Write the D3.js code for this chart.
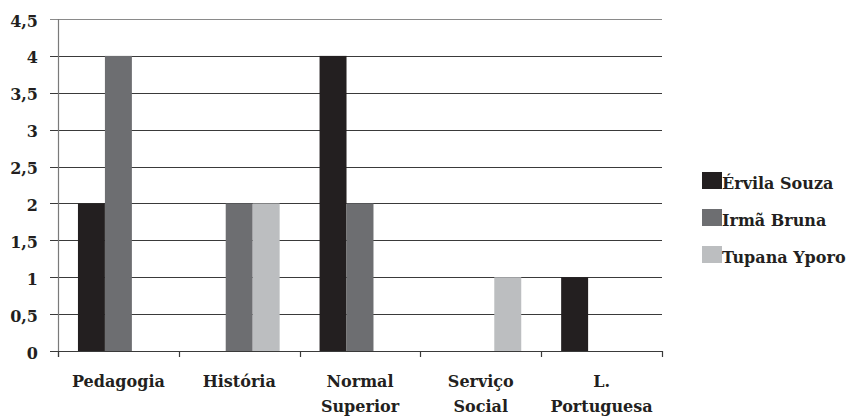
<!DOCTYPE html>
<html>
<head>
<meta charset="utf-8">
<script src="https://cdn.jsdelivr.net/npm/d3@7"></script>
<style>
  html, body { margin: 0; padding: 0; background: #fff; }
  svg text { font-family: "DejaVu Serif", serif; font-weight: bold; fill: #231f20; }
</style>
</head>
<body>
<svg id="chart" width="857" height="417"></svg>
<script>
// Courses and the number of students per teacher
const categories = [["Pedagogia"], ["História"], ["Normal", "Superior"], ["Serviço", "Social"], ["L.", "Portuguesa"]];
const seriesNames = ["Érvila Souza", "Irmã Bruna", "Tupana Yporo"];
const ervilaSouza = [2, 0, 4, 0, 1];
const irmaBruna = [4, 2, 2, 0, 0];
const tupanaYporo = [0, 2, 0, 1, 0];
const yTicks = [0, 0.5, 1, 1.5, 2, 2.5, 3, 3.5, 4, 4.5];
const colors = ["#231f20", "#6d6e71", "#bcbec0"];

const seriesValues = [ervilaSouza, irmaBruna, tupanaYporo];
const svg = d3.select("#chart");

const plotLeft = 58, plotRight = 662, plotTop = 19, plotBottom = 351;

const x0 = d3.scaleBand().domain(d3.range(categories.length)).range([plotLeft, plotRight]).paddingInner(0).paddingOuter(0);
const x1 = d3.scaleBand().domain(d3.range(seriesNames.length)).range([0, x0.bandwidth()]).paddingOuter(0.74).paddingInner(0);
const y = d3.scaleLinear().domain([0, 4.5]).range([plotBottom, plotTop]);

// Horizontal gridlines
svg.append("g").selectAll("line").data(yTicks).join("line")
  .attr("x1", plotLeft - 8).attr("x2", plotRight)
  .attr("y1", d => Math.round(y(d)) + 0.5).attr("y2", d => Math.round(y(d)) + 0.5)
  .attr("stroke", d => d === 4.5 ? "#8a8a8a" : "#3a3a3a")
  .attr("stroke-width", 1.2);

// Y tick labels
svg.append("g").selectAll("text").data(yTicks).join("text")
  .attr("x", 38).attr("y", d => y(d) + 7.5)
  .attr("text-anchor", "end")
  .attr("font-size", 16)
  .text(d => String(d).replace(".", ","));

// Bars
const groups = svg.append("g").selectAll("g").data(categories).join("g")
  .attr("transform", (d, i) => `translate(${x0(i)},0)`);
groups.selectAll("rect")
  .data((d, i) => seriesValues.map((vals, s) => ({ s, v: vals[i] })))
  .join("rect")
  .attr("x", d => x1(d.s))
  .attr("width", x1.bandwidth())
  .attr("y", d => y(d.v))
  .attr("height", d => plotBottom - y(d.v))
  .attr("fill", d => colors[d.s]);

// Axis lines and category ticks
svg.append("line").attr("x1", plotLeft + 0.5).attr("x2", plotLeft + 0.5).attr("y1", plotTop).attr("y2", plotBottom + 6)
  .attr("stroke", "#7a7a7a").attr("stroke-width", 1.2);
svg.append("line").attr("x1", plotLeft).attr("x2", plotRight).attr("y1", Math.round(plotBottom) + 0.5).attr("y2", Math.round(plotBottom) + 0.5)
  .attr("stroke", "#3a3a3a").attr("stroke-width", 1.2);
const xTickPos = d3.range(categories.length + 1).map(i => plotLeft + i * x0.bandwidth());
svg.append("g").selectAll("line").data(xTickPos).join("line")
  .attr("x1", d => Math.round(d) + 0.5).attr("x2", d => Math.round(d) + 0.5)
  .attr("y1", plotBottom).attr("y2", plotBottom + 6)
  .attr("stroke", "#3a3a3a").attr("stroke-width", 1.2);

// Category labels
const catText = svg.append("g").selectAll("text").data(categories).join("text")
  .attr("text-anchor", "middle")
  .attr("font-size", 16)
  .attr("transform", (d, i) => `translate(${x0(i) + x0.bandwidth() / 2},387)`);
catText.selectAll("tspan").data(d => d).join("tspan")
  .attr("x", 0).attr("dy", (d, i) => i === 0 ? 0 : 25)
  .text(d => d);

// Legend
const legend = svg.append("g").selectAll("g").data(seriesNames).join("g")
  .attr("transform", (d, i) => `translate(702,${172 + i * 37})`);
legend.append("rect").attr("width", 20).attr("height", 17).attr("fill", (d, i) => colors[i]);
legend.append("text").attr("x", 20).attr("y", 16.5).attr("font-size", 16).text(d => d);
</script>
</body>
</html>
